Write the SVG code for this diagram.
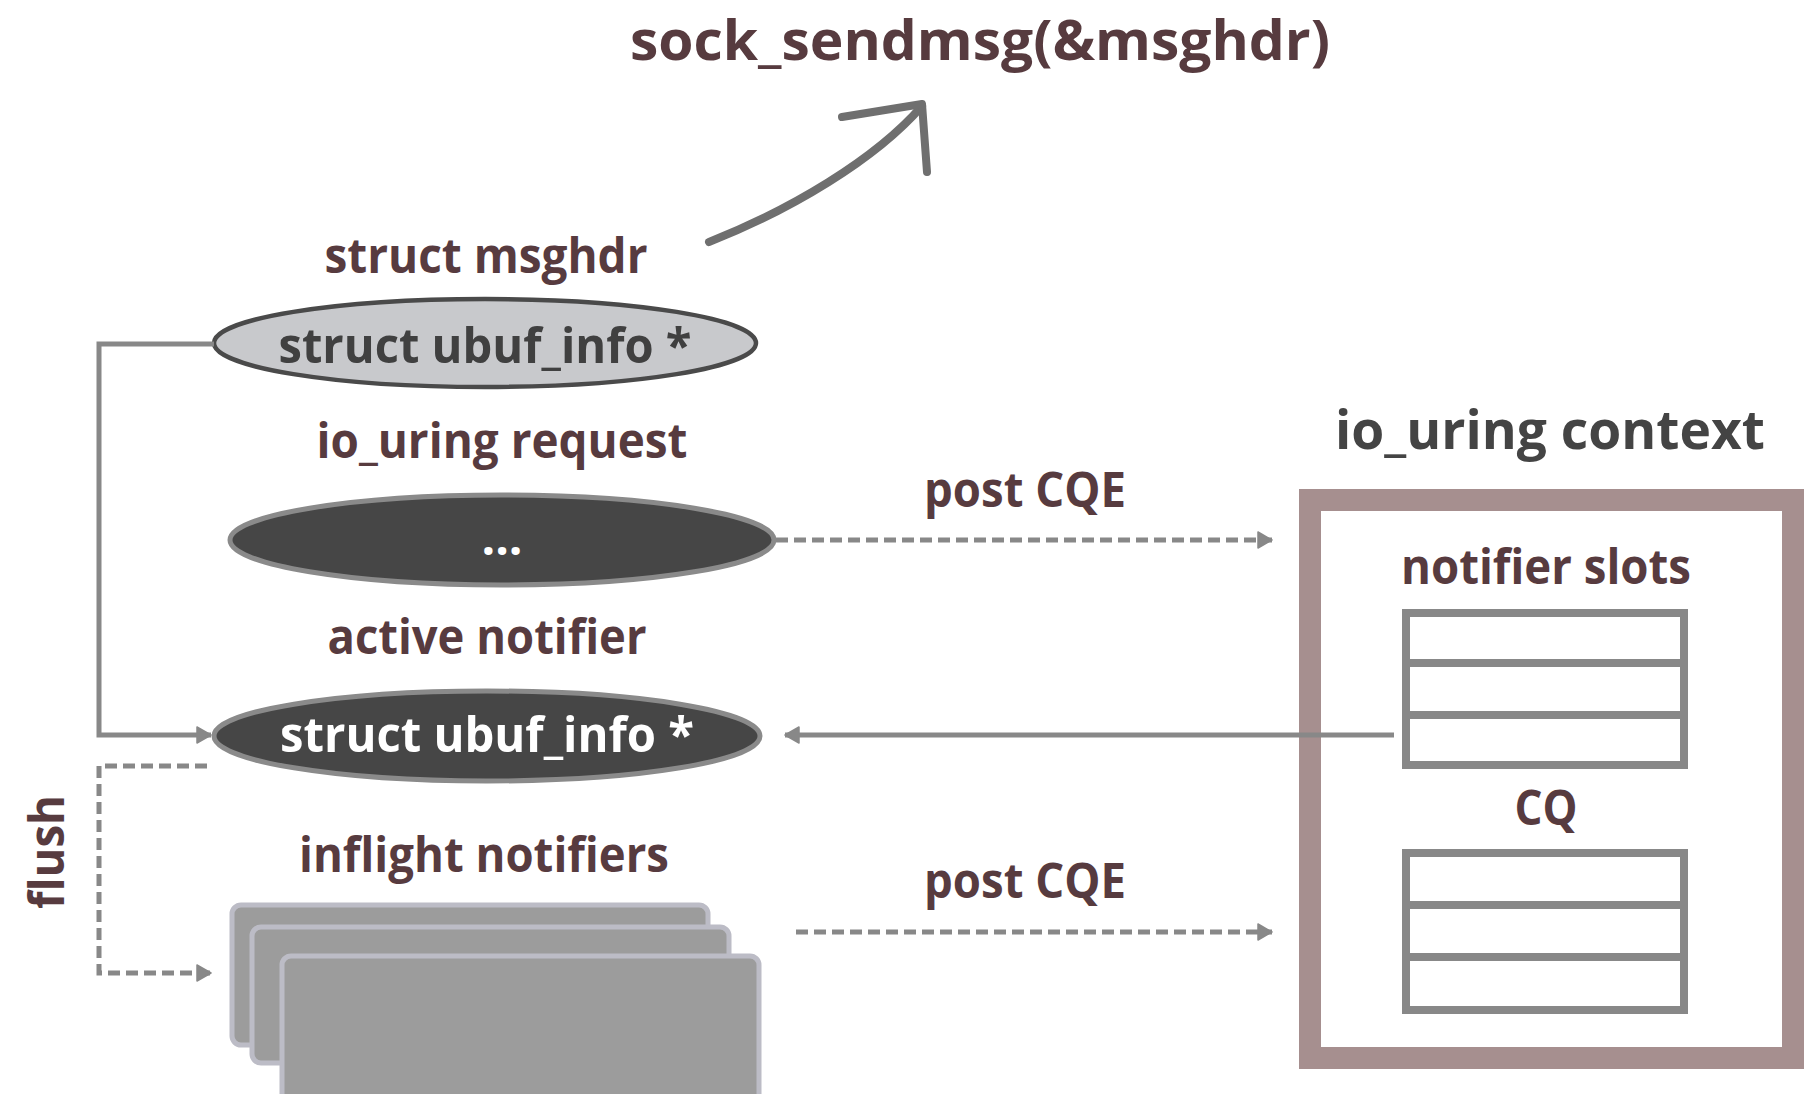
<svg xmlns="http://www.w3.org/2000/svg" width="1806" height="1094" viewBox="0 0 1806 1094">
<style>
.lbl{font-family:"Open Sans","Liberation Sans",sans-serif;font-weight:700;fill:#573b3f;text-anchor:middle}
.in{font-family:"Open Sans","Liberation Sans",sans-serif;font-weight:700;text-anchor:middle}
.conn{fill:none;stroke:#888;stroke-width:5}
.dash{stroke-dasharray:12 6}
.tbl{fill:#fff;stroke:#888;stroke-width:8}
.card{fill:#9c9c9c;stroke:#bcbcc6;stroke-width:5}
.row{stroke:#888;stroke-width:8}
</style>
<defs>
<marker id="ah" viewBox="0 0 16 18" refX="15" refY="9" markerWidth="16" markerHeight="18" markerUnits="userSpaceOnUse" orient="auto">
<path d="M1,1 L15,9 L1,17 Z" fill="#888" stroke="#888" stroke-width="1.5" stroke-linejoin="round"/>
</marker>
</defs>
<rect width="1806" height="1094" fill="#fff"/>

<text class="lbl" x="980" y="60" font-size="56" textLength="700" lengthAdjust="spacingAndGlyphs">sock_sendmsg(&amp;msghdr)</text>

<g id="msghdr">
<text class="lbl" x="486" y="273" font-size="48" textLength="323" lengthAdjust="spacingAndGlyphs">struct msghdr</text>
<ellipse cx="485" cy="343" rx="271" ry="44" fill="#c8c9cc" stroke="#4a4a4a" stroke-width="4.5"/>
<text class="in" x="485" y="363" font-size="49" fill="#404040" textLength="413" lengthAdjust="spacingAndGlyphs">struct ubuf_info *</text>
</g>

<g id="request">
<text class="lbl" x="502" y="458" font-size="48" textLength="371" lengthAdjust="spacingAndGlyphs">io_uring request</text>
<ellipse cx="502" cy="540" rx="272" ry="45" fill="#464646" stroke="#8a8a8a" stroke-width="5"/>
<text class="in" x="502" y="555" font-size="48" fill="#fff">...</text>
</g>

<g id="active">
<text class="lbl" x="487" y="654" font-size="48" textLength="319" lengthAdjust="spacingAndGlyphs">active notifier</text>
<ellipse cx="487" cy="736" rx="273" ry="45" fill="#464646" stroke="#8a8a8a" stroke-width="5"/>
<text class="in" x="487" y="752" font-size="49" fill="#fff" textLength="414" lengthAdjust="spacingAndGlyphs">struct ubuf_info *</text>
</g>

<g id="inflight">
<text class="lbl" x="484" y="872" font-size="48" textLength="370" lengthAdjust="spacingAndGlyphs">inflight notifiers</text>
<rect x="232" y="905" width="476" height="140" rx="9" class="card"/>
<rect x="252" y="927" width="477" height="136" rx="9" class="card"/>
<rect x="282" y="956" width="477" height="150" rx="9" class="card"/>
</g>

<g id="context">
<text class="in" x="1550" y="449" font-size="54" fill="#444" textLength="430" lengthAdjust="spacingAndGlyphs">io_uring context</text>
<rect x="1310" y="500" width="483" height="558" fill="#fff" stroke="#a68f8f" stroke-width="22"/>
<text class="lbl" x="1546" y="584" font-size="48" textLength="290" lengthAdjust="spacingAndGlyphs">notifier slots</text>
<g id="slots">
<rect x="1406" y="613" width="278" height="152" class="tbl"/>
<line x1="1406" y1="663" x2="1684" y2="663" class="row"/>
<line x1="1406" y1="715" x2="1684" y2="715" class="row"/>
</g>
<text class="lbl" x="1546" y="825" font-size="48" textLength="63" lengthAdjust="spacingAndGlyphs">CQ</text>
<g id="cq">
<rect x="1406" y="853" width="278" height="157" class="tbl"/>
<line x1="1406" y1="905" x2="1684" y2="905" class="row"/>
<line x1="1406" y1="957" x2="1684" y2="957" class="row"/>
</g>
</g>

<g id="connectors">
<path d="M709,242 C790,210 875,160 922,106" fill="none" stroke="#6f6f6f" stroke-width="8" stroke-linecap="round"/>
<path d="M842,117 L922,104 L927,172" fill="none" stroke="#6f6f6f" stroke-width="8" stroke-linecap="round" stroke-linejoin="round"/>
<path class="conn" d="M214,344 H99 V735 H211" marker-end="url(#ah)"/>
<path class="conn dash" d="M207,766 H99 V973 H211" marker-end="url(#ah)"/>
<path class="conn dash" d="M776,540 H1272" marker-end="url(#ah)"/>
<path class="conn dash" d="M796,932 H1272" marker-end="url(#ah)"/>
<path class="conn" d="M1394,735 H785" marker-end="url(#ah)"/>
<text class="lbl" x="1025" y="507" font-size="48" textLength="202" lengthAdjust="spacingAndGlyphs">post CQE</text>
<text class="lbl" x="1025" y="898" font-size="48" textLength="202" lengthAdjust="spacingAndGlyphs">post CQE</text>
<text class="lbl" x="0" y="0" font-size="48" textLength="114" lengthAdjust="spacingAndGlyphs" transform="translate(64,852) rotate(-90)">flush</text>
</g>
</svg>
